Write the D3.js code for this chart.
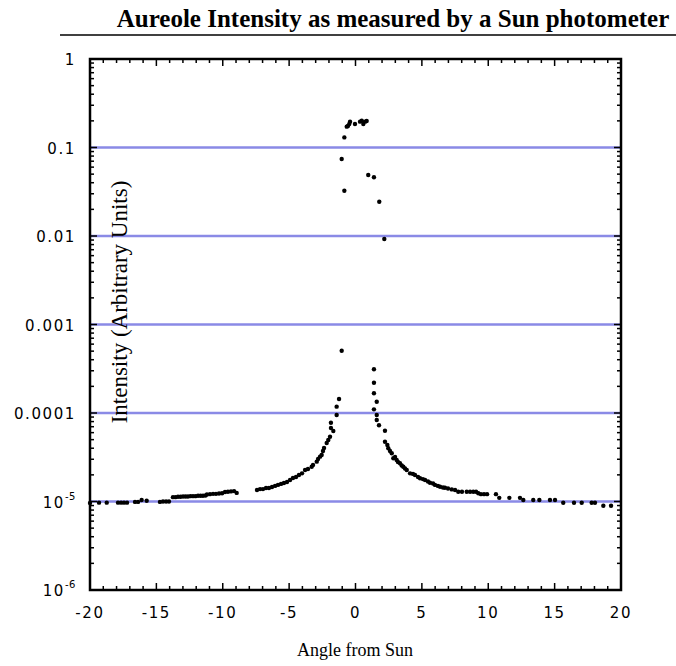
<!DOCTYPE html>
<html><head><meta charset="utf-8">
<script src="https://cdn.jsdelivr.net/npm/d3@7/dist/d3.min.js"></script>
<style>body{margin:0;background:#fff}</style>
</head><body><svg id="c" width="676" height="666"></svg>
<script>
const angles = [
 -20.00,-19.32,-18.74,-17.89,-17.66,-17.44,-17.21,-16.61,-16.38,-16.11,-15.73,-14.73,-14.50,-14.27,-14.05,
 -13.75,-13.56,-13.37,-13.18,-12.99,-12.80,-12.62,-12.43,-12.24,-12.05,-11.86,-11.67,-11.49,-11.30,
 -11.19,-10.96,-10.73,-10.51,-10.28,-10.05,-9.83,-9.61,-9.38,-9.15,-8.95,
 -7.42,-7.19,-6.97,-6.74,-6.52,-6.29,-6.06,-5.84,-5.61,-5.39,-5.16,-4.93,-4.71,-4.48,-4.26,-4.03,
 -3.80,-3.58,-3.30,-3.20,-2.92,-2.82,-2.67,-2.55,-2.45,-2.37,-2.17,-2.05,-1.92,-1.85,-1.67,-1.85,
 -1.42,-1.42,-1.24,-1.04,
 -1.04,-0.84,-0.84,-0.66,-0.57,-0.47,-0.41,-0.04,0.34,0.47,0.59,0.72,0.84,0.96,1.39,1.79,2.17,
 1.39,1.39,1.39,1.60,1.39,1.60,1.60,1.77,2.22,2.22,2.40,2.47,2.60,2.73,2.85,2.98,3.10,3.20,3.35,3.48,
 3.60,3.73,3.86,4.11,4.33,4.48,4.71,4.86,5.08,5.24,5.46,5.61,5.84,5.99,6.21,6.37,6.59,6.74,6.97,
 7.25,7.50,7.74,8.02,8.38,8.63,8.87,9.08,9.25,9.45,9.68,9.91,10.58,10.83,11.59,12.39,12.64,13.39,
 13.85,14.65,15.03,15.65,16.46,17.04,17.79,18.04,18.67,19.25
];
const intensities = [
 9.6e-6,9.7e-6,9.7e-6,9.7e-6,9.7e-6,9.7e-6,9.7e-6,9.9e-6,9.9e-6,1.04e-5,1.02e-5,9.9e-6,1.0e-5,1.0e-5,1.0e-5,
 1.12e-5,1.12e-5,1.13e-5,1.13e-5,1.14e-5,1.14e-5,1.14e-5,1.15e-5,1.15e-5,1.15e-5,1.16e-5,1.16e-5,1.16e-5,1.17e-5,
 1.20e-5,1.21e-5,1.22e-5,1.22e-5,1.23e-5,1.24e-5,1.28e-5,1.29e-5,1.30e-5,1.31e-5,1.25e-5,
 1.35e-5,1.38e-5,1.38e-5,1.42e-5,1.42e-5,1.46e-5,1.50e-5,1.54e-5,1.58e-5,1.62e-5,1.66e-5,1.75e-5,1.84e-5,1.89e-5,1.99e-5,2.08e-5,
 2.27e-5,2.33e-5,2.47e-5,2.58e-5,2.82e-5,3.02e-5,3.21e-5,3.35e-5,3.72e-5,4.03e-5,4.59e-5,4.96e-5,5.40e-5,6.77e-5,6.26e-5,7.77e-5,
 9.49e-5,1.18e-4,1.44e-4,5.06e-4,
 0.074,0.130,0.0325,0.172,0.175,0.184,0.196,0.184,0.196,0.201,0.184,0.196,0.199,0.0489,0.0461,0.0244,0.00925,
 3.12e-4,2.20e-4,1.67e-4,1.34e-4,1.10e-4,9.49e-5,8.33e-5,7.26e-5,6.31e-5,4.74e-5,4.35e-5,3.99e-5,3.72e-5,3.51e-5,3.08e-5,3.18e-5,2.94e-5,2.79e-5,2.70e-5,2.55e-5,
 2.47e-5,2.36e-5,2.27e-5,2.08e-5,2.05e-5,1.99e-5,1.89e-5,1.83e-5,1.79e-5,1.75e-5,1.68e-5,1.63e-5,1.60e-5,1.54e-5,1.50e-5,1.47e-5,1.44e-5,1.43e-5,1.40e-5,
 1.37e-5,1.35e-5,1.29e-5,1.29e-5,1.29e-5,1.29e-5,1.29e-5,1.29e-5,1.24e-5,1.21e-5,1.21e-5,1.21e-5,1.21e-5,1.10e-5,1.10e-5,1.10e-5,1.04e-5,1.04e-5,
 1.04e-5,1.04e-5,1.04e-5,9.69e-6,9.69e-6,9.69e-6,9.69e-6,9.69e-6,8.97e-6,8.97e-6
];
const xTickValues = [-20,-15,-10,-5,0,5,10,15,20];
const xTickLabels = ["-20","-15","-10","-5","0","5","10","15","20"];
const yTickValues = [1,0.1,0.01,0.001,0.0001,1e-5,1e-6];
const yTickLabels = ["1","0.1","0.01","0.001","0.0001","10|-5","10|-6"];
const gridValues = [0.1,0.01,0.001,0.0001,1e-5];
const titleText = "Aureole Intensity as measured by a Sun photometer";
const xTitle = "Angle from Sun";
const yTitle = "Intensity (Arbitrary Units)";

const L = 90, R = 621, T = 59, B = 590;
const svg = d3.select("#c");
const x = d3.scaleLinear().domain([-20, 20]).range([L, R]);
const y = d3.scaleLog().domain([1e-6, 1]).range([B, T]);
const serif = "Liberation Serif, Times New Roman, serif";

// title
svg.append("text").attr("x", 393).attr("y", 27).attr("text-anchor", "middle")
  .attr("font-family", serif).attr("font-weight", "bold")
  .attr("font-size", 25).text(titleText);
svg.append("line").attr("x1", 60).attr("x2", 676).attr("y1", 35).attr("y2", 35)
  .attr("stroke", "#000").attr("stroke-width", 1.5);

// grid
svg.append("g").selectAll("line").data(gridValues).join("line")
  .attr("x1", L).attr("x2", R).attr("y1", d => y(d)).attr("y2", d => y(d))
  .attr("stroke", "#8a8ae6").attr("stroke-width", 2.5);

// ticks
const xMinor = d3.range(-20, 21, 1);
const yMinor = [];
for (let e = -6; e < 0; e++) for (let m = 1; m < 10; m++) yMinor.push(m * Math.pow(10, e));
yMinor.push(1);
const tk = svg.append("g").attr("stroke", "#000").attr("stroke-width", 1.5);
xMinor.forEach(v => {
  const len = (v % 5 === 0) ? 7 : 4;
  tk.append("line").attr("x1", x(v)).attr("x2", x(v)).attr("y1", B).attr("y2", B - len);
  tk.append("line").attr("x1", x(v)).attr("x2", x(v)).attr("y1", T).attr("y2", T + len);
});
yMinor.forEach(v => {
  const isMaj = Math.abs(Math.log10(v) - Math.round(Math.log10(v))) < 1e-9;
  const len = isMaj ? 7 : 4;
  tk.append("line").attr("y1", y(v)).attr("y2", y(v)).attr("x1", L).attr("x2", L + len);
  tk.append("line").attr("y1", y(v)).attr("y2", y(v)).attr("x1", R).attr("x2", R - len);
});

// frame
svg.append("rect").attr("x", L).attr("y", T).attr("width", R - L).attr("height", B - T)
  .attr("fill", "none").attr("stroke", "#000").attr("stroke-width", 2.5);

// tick labels
const fnt = "DejaVu Sans, Verdana, sans-serif";
const xl = svg.append("g");
xTickValues.forEach((v, i) => {
  xl.append("text").attr("x", x(v)).attr("y", 618).attr("text-anchor", "middle")
    .attr("font-family", fnt).attr("font-size", 15).attr("letter-spacing", 1.6).text(xTickLabels[i]);
});
const yl = svg.append("g");
yTickValues.forEach((v, i) => {
  const t = yl.append("text").attr("x", 76).attr("y", y(v) + 6).attr("text-anchor", "end")
    .attr("font-family", fnt).attr("font-size", 15).attr("letter-spacing", 1.6);
  const lab = yTickLabels[i];
  if (lab.includes("|")) {
    const [b, e] = lab.split("|");
    t.append("tspan").text(b);
    t.append("tspan").attr("dy", -8).attr("font-size", 10).attr("letter-spacing", 0.5).text(e);
  } else t.text(lab);
});

// axis titles
svg.append("text").attr("x", 355).attr("y", 656).attr("text-anchor", "middle")
  .attr("font-family", serif).attr("font-size", 18).text(xTitle);
svg.append("text").attr("transform", "translate(127,302) rotate(-90)").attr("text-anchor", "middle")
  .attr("font-family", serif).attr("font-size", 23).text(yTitle);

// points
svg.append("g").selectAll("circle").data(angles.map((a, i) => [a, intensities[i]])).join("circle")
  .attr("cx", d => x(d[0])).attr("cy", d => y(d[1])).attr("r", 2.2).attr("fill", "#000");
</script></body></html>
